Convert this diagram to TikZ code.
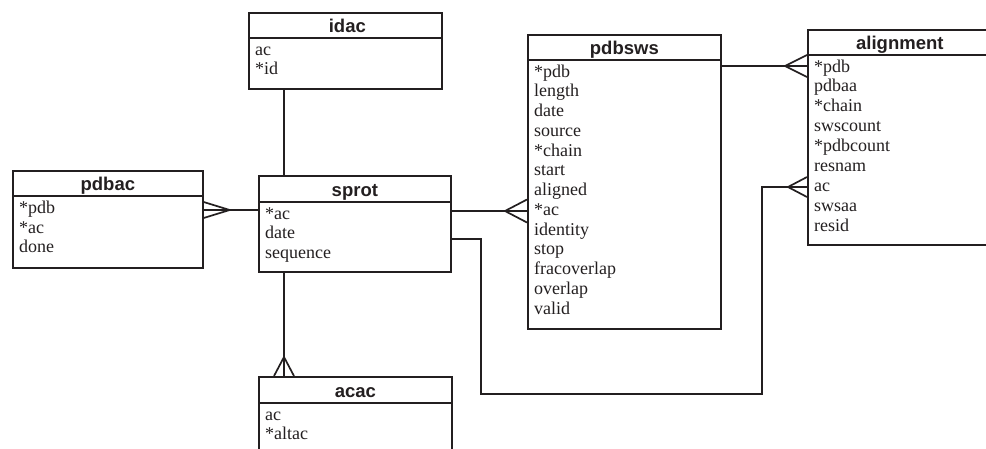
\documentclass[tikz,border=0pt]{standalone}
\usepackage{fontspec}
\setmainfont{Liberation Serif}
\newfontfamily\ttlfont{Liberation Sans}
\usetikzlibrary{calc}
\definecolor{ink}{HTML}{231F20}
\begin{document}
\begin{tikzpicture}[x=1pt,y=-1pt,
  tbl/.style={draw=ink,line width=1.7pt,anchor=north west,inner sep=0pt,minimum width=193pt},
  ttl/.style={anchor=base,inner sep=0pt,text=ink,font=\ttlfont\bfseries\fontsize{18.5}{20}\selectfont},
  fld/.style={anchor=base west,inner sep=0pt,text=ink,font=\fontsize{18}{20}\selectfont},
  conn/.style={draw=ink,line width=1.7pt,line join=miter}]
\useasboundingbox (0,0) rectangle (986,448);
\clip (0,0) rectangle (986,448);

% tables
\node[tbl,minimum height=76pt] (idac) at (248,12) {};
\node[tbl,minimum width=190pt,minimum height=97pt] (pdbac) at (12,170) {};
\node[tbl,minimum width=192pt,minimum height=96pt] (sprot) at (258,175) {};
\node[tbl,minimum height=100pt] (acac) at (258,376) {};
\node[tbl,minimum height=294pt] (pdbsws) at (527,34) {};
\node[tbl,minimum width=200pt,minimum height=215pt] (alignment) at (807,29) {};

% header lines
\foreach \t/\h in {idac/26,pdbac/26,sprot/27,acac/27,pdbsws/26,alignment/26}{
  \draw[ink,line width=1.7pt] ($(\t.north west)+(0,\h)$) -- ($(\t.north east)+(0,\h)$);
}
% titles
\node[ttl] (t-idac) at ($(idac.north)+(2,20)$) {idac};
\node[ttl] (t-pdbac) at ($(pdbac.north)+(0,20.5)$) {pdbac};
\node[ttl] (t-sprot) at ($(sprot.north)+(0,21)$) {sprot};
\node[ttl] (t-acac) at ($(acac.north)+(0,21)$) {acac};
\node[ttl] (t-pdbsws) at ($(pdbsws.north)+(0,20)$) {pdbsws};
\node[ttl] (t-alignment) at ($(alignment.north)+(-8,20)$) {alignment};

% fields
\foreach \f [count=\i from 0] in {ac,*id}
  \node[fld] (idac-\i) at ($(idac.north west)+(7,43+19.8*\i)$) {\f};
\foreach \f [count=\i from 0] in {*pdb,*ac,done}
  \node[fld] (pdbac-\i) at ($(pdbac.north west)+(7,43.5+19.7*\i)$) {\f};
\foreach \f [count=\i from 0] in {*ac,date,sequence}
  \node[fld] (sprot-\i) at ($(sprot.north west)+(7,44+19.8*\i)$) {\f};
\foreach \f [count=\i from 0] in {ac,*altac}
  \node[fld] (acac-\i) at ($(acac.north west)+(7,44+19.5*\i)$) {\f};
\foreach \f [count=\i from 0] in {*pdb,length,date,source,*chain,start,aligned,*ac,identity,stop,fracoverlap,overlap,valid}
  \node[fld] (pdbsws-\i) at ($(pdbsws.north west)+(7,43+19.75*\i)$) {\f};
\foreach \f [count=\i from 0] in {*pdb,pdbaa,*chain,swscount,*pdbcount,resnam,ac,swsaa,resid}
  \node[fld] (alignment-\i) at ($(alignment.north west)+(7,43+19.9*\i)$) {\f};

% connector levels
\coordinate (vx) at (284,0);
\coordinate (y1) at (0,210);
\coordinate (y2) at (0,211);
\coordinate (y3) at (0,66);
\coordinate (y4) at (0,239);
\coordinate (y5) at (0,394);
\coordinate (y6) at (0,187);
\coordinate (x5) at (481,0);
\coordinate (x6) at (762,0);

% idac -- sprot
\draw[conn] (idac.south -| vx) -- (sprot.north -| vx);
% pdbac >-- sprot
\draw[conn] (pdbac.east |- y1) -- (sprot.west |- y1);
\draw[conn] ($(pdbac.east |- y1)+(0,-8)$) -- ($(pdbac.east |- y1)+(26,0)$) -- ($(pdbac.east |- y1)+(0,8)$);
% sprot --< pdbsws
\draw[conn] (sprot.east |- y2) -- (pdbsws.west |- y2);
\draw[conn] ($(pdbsws.west |- y2)+(0,-11.5)$) -- ($(pdbsws.west |- y2)+(-22,0)$) -- ($(pdbsws.west |- y2)+(0,11.5)$);
% pdbsws --< alignment
\draw[conn] (pdbsws.east |- y3) -- (alignment.west |- y3);
\draw[conn] ($(alignment.west |- y3)+(0,-11)$) -- ($(alignment.west |- y3)+(-22,0)$) -- ($(alignment.west |- y3)+(0,11)$);
% sprot --< alignment (routed)
\draw[conn] (sprot.east |- y4) -- (x5 |- y4) -- (x5 |- y5) -- (x6 |- y5) -- (x6 |- y6) -- (alignment.west |- y6);
\draw[conn] ($(alignment.west |- y6)+(0,-10)$) -- ($(alignment.west |- y6)+(-19,0)$) -- ($(alignment.west |- y6)+(0,10)$);
% sprot --< acac
\draw[conn] (sprot.south -| vx) -- (acac.north -| vx);
\draw[conn] ($(acac.north -| vx)+(-10,0)$) -- ($(acac.north -| vx)+(0,-19)$) -- ($(acac.north -| vx)+(10,0)$);
\end{tikzpicture}
\end{document}
